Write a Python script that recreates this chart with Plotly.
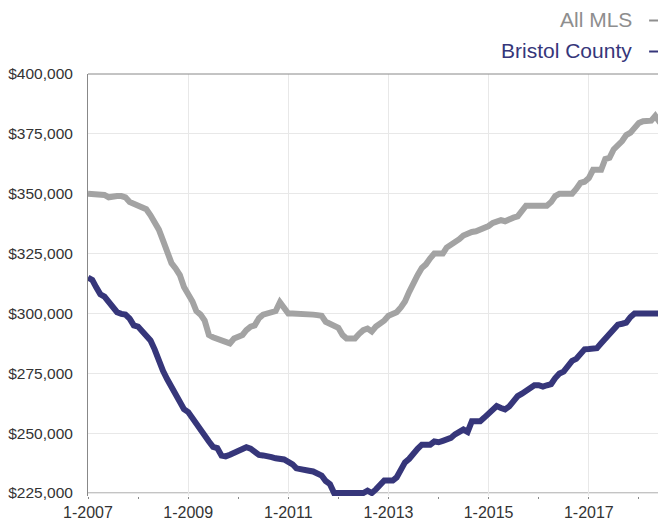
import pandas as pd
import plotly.graph_objects as go

months = pd.date_range("2007-01-01", periods=140, freq="MS")

all_mls = [
    350, 350, 350, 350, 349.5, 348.5, 349, 349, 349, 348.5,
    346.5, 345.8, 345.2, 344.7, 343.5, 341, 338, 335, 330.5, 326,
    321, 318.8, 316, 311, 308, 305, 301, 299.5, 297, 291,
    290, 289.5, 289, 288.5, 287.5, 289.5, 290, 291, 293, 294.5,
    295, 298, 299.5, 300, 300.2, 301, 304.7, 302, 300, 300,
    300, 300, 300, 299.8, 299.5, 299.3, 299, 296.5, 295.5, 295,
    294, 291, 289.5, 289.5, 289.5, 291.5, 293, 293.7, 292.5, 294.5,
    295.5, 297, 299, 300, 300.5, 302.5, 305, 309, 313, 316,
    319, 320.5, 323, 325, 325, 325, 327.5, 328.5, 330, 331,
    332.5, 333.5, 334, 334.3, 335, 336, 336.5, 337.8, 338.5, 339,
    338.5, 339.5, 340, 340.5, 343, 345, 345, 345, 345, 345,
    345, 346.5, 349, 350, 350, 350, 350, 352, 354.5, 355,
    356.5, 360, 360, 360, 364.5, 365, 368.5, 370, 372, 374.5,
    375.5, 377.5, 379.5, 380.3, 380.5, 380.5, 382.5, 380, 379, 373,
]

bristol = [
    315, 314, 311, 308, 307, 304.5, 302, 300.5, 299.8, 299.5,
    297.8, 295, 294.5, 292.5, 290, 288.7, 285, 280, 276, 272.5,
    269.3, 265.6, 263, 260, 258.8, 256.3, 253, 250.7, 248.5, 246.5,
    244.3, 243.8, 240.6, 240.3, 241, 241.7, 242.4, 243, 244.1, 243.5,
    242.2, 240.9, 240.7, 240.6, 240, 239.5, 239.3, 239, 238, 237,
    235.3, 234.8, 234.5, 234.3, 234, 233.3, 232.3, 230, 228.7, 225,
    225, 225, 225, 225, 225, 225, 225, 226, 225, 226.5,
    228.5, 230.2, 230.2, 230.2, 231.5, 235, 237.8, 239.3, 241.7, 243.5,
    245.2, 245.2, 245.2, 246.5, 246.2, 246.8, 247.5, 248, 249.5, 250.6,
    251.5, 250.5, 255, 255, 255, 256.5, 258.3, 260, 261.3, 260.5,
    259.9, 261.2, 263.5, 265.5, 266.5, 267.5, 268.5, 270, 270, 269.4,
    270, 270.5, 273, 274.9, 275.7, 278.5, 280.2, 281, 283, 285,
    285.1, 285.1, 285.5, 287.5, 289.5, 290.8, 293, 295.3, 295.7, 296.2,
    298.5, 300, 300, 300, 300, 300, 300, 300, 299, 297,
]

series_names = ["All MLS", "Bristol County"]
series_colors = ["#a3a3a3", "#36367a"]
legend_text_colors = ["#8e8e8e", "#36367a"]

y_min, y_max, y_step = 225000, 400000, 25000

FONT = "Helvetica Neue, Arial, Liberation Sans, sans-serif"

fig = go.Figure()
for name, vals, col in zip(series_names, [all_mls, bristol], series_colors):
    fig.add_trace(go.Scatter(
        x=months, y=[v * 1000 for v in vals], mode="lines", name=name,
        line=dict(color=col, width=6), showlegend=False,
    ))

# page has an 8px body margin; figure occupies page px (8..666, 8..523)
OFF = 8
EXT = 3  # extra px below the 225k baseline so the line is not clipped
W, H = 666 - OFF, 523 - OFF
L, R, T, B = 84 - OFF, 0, 74 - OFF, 523 - 493 - EXT
pw, ph = W - L - R, H - T - B
val_per_px = (y_max - y_min) / (ph - EXT)

def px_x(p):
    return (p - OFF - L) / pw

def px_y(p):
    return (H - B - (p - OFF)) / ph

fig.update_layout(
    width=W, height=H,
    margin=dict(l=L, r=R, t=T, b=B, pad=0),
    paper_bgcolor="white", plot_bgcolor="white",
    font=dict(family=FONT, size=16, color="#333333"),
    xaxis=dict(
        type="date",
        range=["2007-01-01", "2018-07-18"],
        tick0="2007-01-01", dtick="M24", tickformat="%-m-%Y",
        ticks="outside", ticklen=2, tickcolor="#888888",
        showgrid=True, gridcolor="#e8e8e8", gridwidth=1,
        showline=False,
        minor=dict(dtick="M12", tick0="2007-01-01", ticks="outside", ticklen=2,
                   tickcolor="#888888", showgrid=False),
        tickfont=dict(size=16, color="#333333"),
        zeroline=False,
    ),
    yaxis=dict(
        range=[y_min - EXT * val_per_px, y_max],
        tick0=y_min, dtick=y_step,
        tickprefix="$", tickformat=",.0f",
        showgrid=True, gridcolor="#e8e8e8", gridwidth=1,
        showline=True, linecolor="#888888", linewidth=1,
        ticks="", ticklabelstandoff=11,
        tickfont=dict(size=15.5, color="#333333"),
        zeroline=False,
    ),
)

# bottom baseline at $225,000 and top border
fig.add_shape(type="line", xref="paper", yref="y", x0=0, x1=1, y0=y_min, y1=y_min,
              line=dict(color="#888888", width=1), layer="below")
fig.add_shape(type="line", xref="paper", yref="paper", x0=0, x1=1, y0=1, y1=1,
              line=dict(color="#888888", width=1), layer="above")

legend_y = [19.5, 50.5]
for name, tcol, lcol, yy in zip(series_names, legend_text_colors, series_colors, legend_y):
    fig.add_annotation(
        xref="paper", yref="paper", x=px_x(634), y=px_y(yy),
        text=name, showarrow=False, xanchor="right", yanchor="middle",
        font=dict(family=FONT, size=21, color=tcol),
    )
    fig.add_shape(
        type="line", xref="paper", yref="paper",
        x0=px_x(649), x1=px_x(663), y0=px_y(yy + 1), y1=px_y(yy + 1),
        line=dict(color=tcol, width=2),
    )

fig.write_html("out.html")
